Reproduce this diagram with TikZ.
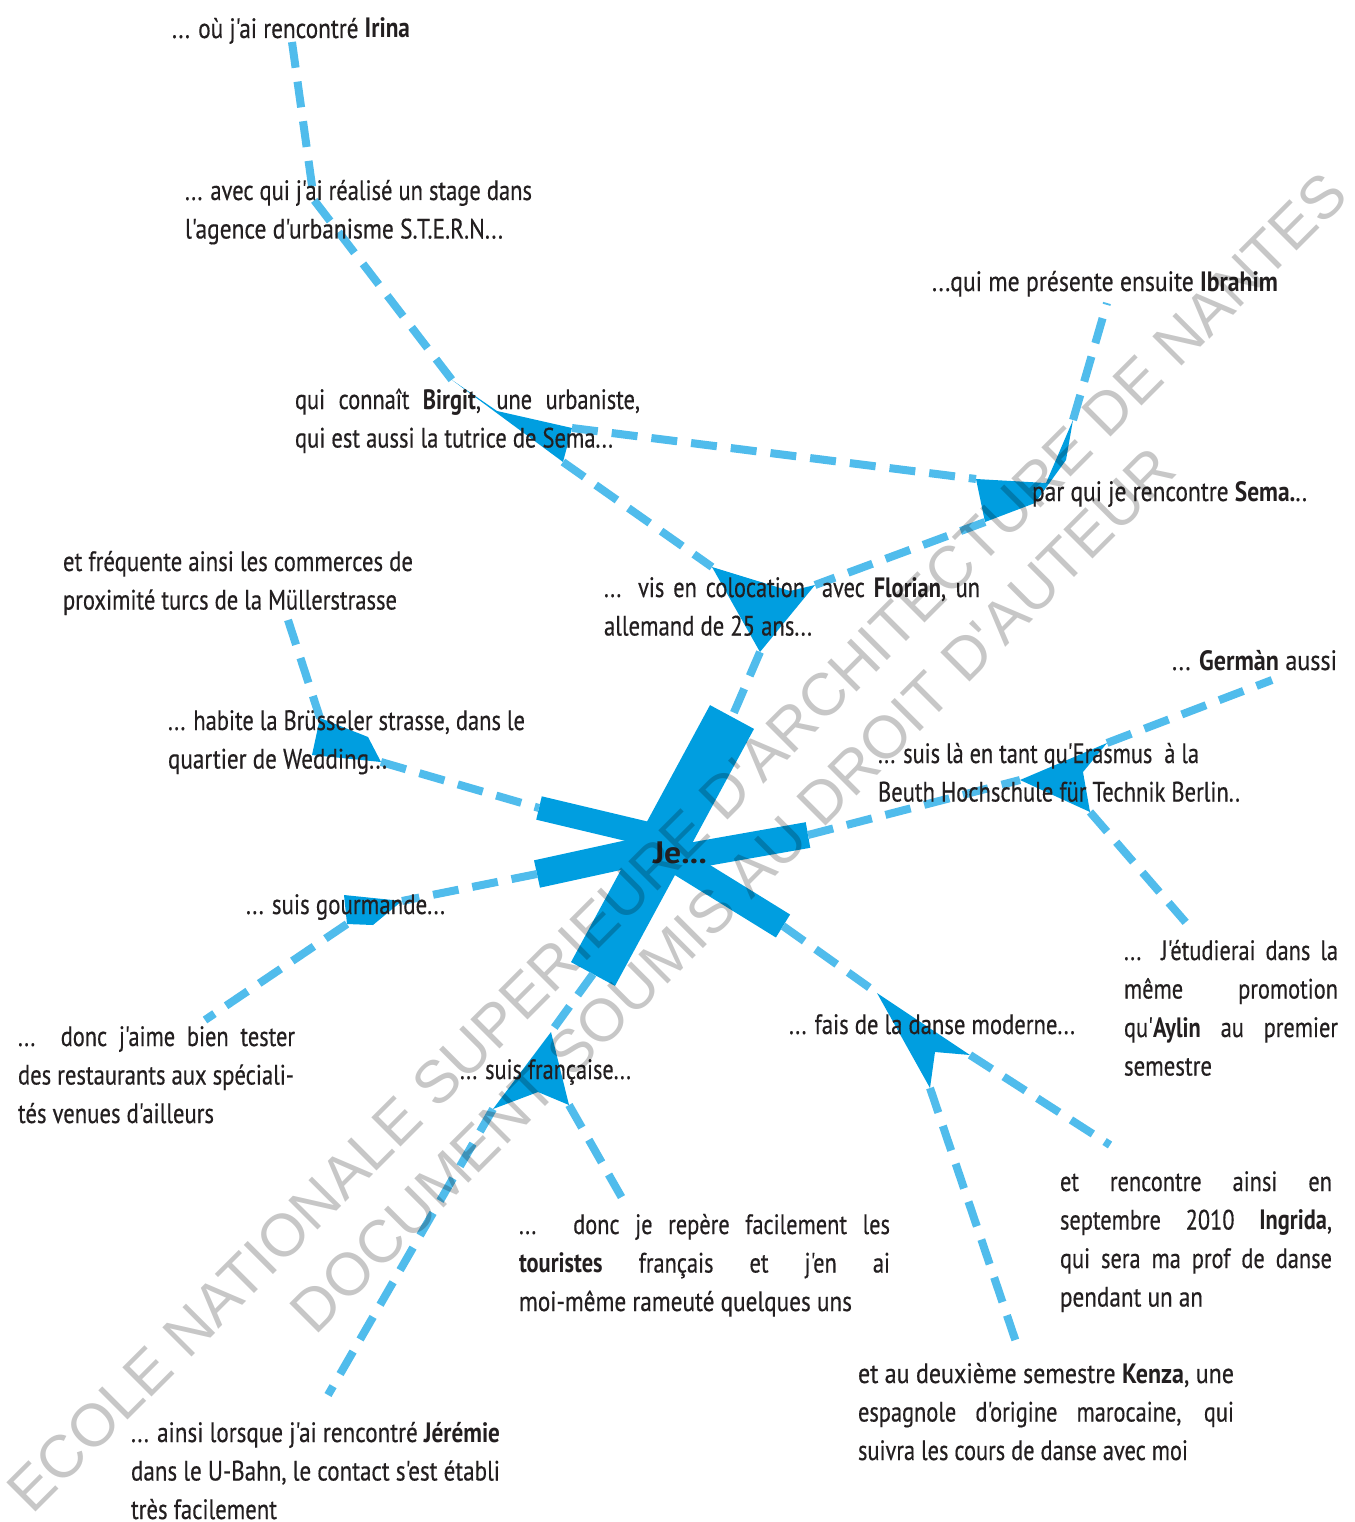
\documentclass[tikz,border=0pt]{standalone}
\usepackage{fontspec}
\usepackage{graphicx}
\setmainfont{PT Sans}[FakeStretch=0.8, Ligatures=TeXOff, UprightFeatures={FakeBold=0.4}]
\newfontfamily\wmfont{Liberation Sans}[Ligatures=TeXOff]
\definecolor{dblue}{RGB}{0,158,224}
\definecolor{lblue}{RGB}{80,188,236}
\definecolor{ink}{RGB}{35,31,32}
\newcommand\lfit[2]{\hbox{\resizebox{#1pt}{\height}{#2}}}
\newcommand\ljust[2]{\hbox{\makebox[#1pt][s]{#2}}}
\newcommand\tblock[1]{\vtop{\baselineskip=38.5pt\lineskiplimit=-50pt\lineskip=0pt #1}}
\tikzset{
  txt/.style={anchor=base west, inner sep=0pt, outer sep=0pt, text=ink, font=\fontsize{28}{38.5}\selectfont},
  conn/.style={draw=lblue, line width=8pt, dash pattern=on 26pt off 14pt},
  blob/.style={fill=dblue},
  arm/.style={draw=dblue, line cap=butt},
  wm/.style={font=\wmfont\fontsize{60}{60}\selectfont, text=black, text opacity=0.22, rotate=45, inner sep=0pt}
}
\begin{document}
\begin{tikzpicture}[x=1pt,y=-1pt]
\fill[white] (0,0) rectangle (1354,1522);
\useasboundingbox (0,0) rectangle (1354,1522);
% free ends
\coordinate (irina) at (292,42);
\coordinate (bend) at (314,200);
\coordinate (ibra) at (1107,303);
\coordinate (mull) at (288,620);
\coordinate (germ) at (1272,680);
\coordinate (etud) at (1188,925);
\coordinate (aime) at (205,1020);
\coordinate (jere) at (328,1395);
\coordinate (tour) at (622,1198);
\coordinate (ingr) at (1110,1145);
\coordinate (kenz) at (1017,1345);
% shapes vertices
\coordinate (bi1) at (452,380); \coordinate (bi2) at (497,411); \coordinate (bi3) at (572,428); \coordinate (bi4) at (563,462);
\coordinate (se1) at (976,479); \coordinate (se2) at (1046,483); \coordinate (se3) at (1073,420); \coordinate (se4) at (1066,460); \coordinate (se5) at (1035,503); \coordinate (se6) at (985,522);
\coordinate (fl1) at (712,567); \coordinate (fl2) at (790,591); \coordinate (fl3) at (815,585); \coordinate (fl4) at (760,652);
\coordinate (we1) at (320,718); \coordinate (we2) at (368,737); \coordinate (we3) at (381,762); \coordinate (we4) at (312,755);
\coordinate (go1) at (344,895); \coordinate (go2) at (402,901); \coordinate (go3) at (373,925); \coordinate (go4) at (347,924);
\coordinate (er1) at (1107,743); \coordinate (er2) at (1083,772); \coordinate (er3) at (1090,812); \coordinate (er4) at (1020,780);
\coordinate (da1) at (877,993); \coordinate (da2) at (970,1055); \coordinate (da3) at (935,1052); \coordinate (da4) at (930,1088);
\coordinate (fr1) at (551,1032); \coordinate (fr2) at (569,1105); \coordinate (fr3) at (538,1092); \coordinate (fr4) at (493,1109);
% star
\coordinate (sttop) at (732,717); \coordinate (stbot) at (593,974);
\coordinate (a2) at (539,808); \coordinate (c2) at (665,838);
\coordinate (a3) at (537,874); \coordinate (c3) at (665,846);
\coordinate (a4) at (808,835); \coordinate (c4) at (655,862);
\coordinate (a5) at (783,926); \coordinate (c5) at (660,850);

% filled shapes
\fill[blob] (bi1) -- (bi2) -- (bi3) -- (bi4) -- cycle;
\fill[blob] (se1) -- (se2) -- (se3) -- (se4) -- (se5) -- (se6) -- cycle;
\fill[blob] (fl1) -- (fl2) -- (fl3) -- (fl4) -- cycle;
\fill[blob] (we1) -- (we2) -- (we3) -- (we4) -- cycle;
\fill[blob] (go1) -- (go2) -- (go3) -- (go4) -- cycle;
\fill[blob] (er1) -- (er2) -- (er3) -- (er4) -- cycle;
\fill[blob] (da1) -- (da2) -- (da3) -- (da4) -- cycle;
\fill[blob] (fr1) -- (fr2) -- (fr3) -- (fr4) -- cycle;
% star arms
\draw[arm, line width=50pt] (sttop) -- (stbot);
\draw[arm, line width=24pt] (a2) -- (c2);
\draw[arm, line width=28pt] (a3) -- (c3);
\draw[arm, line width=26pt] (a4) -- (c4);
\draw[arm, line width=27pt] (a5) -- (c5);

% connectors
\draw[conn] (irina) -- (bend) -- (bi1);
\draw[conn] (bi3) -- (se1);
\draw[conn] (bi4) -- (fl1);
\draw[conn] (se6) -- (fl3);
\draw[conn] (se3) -- (ibra);
\draw[conn] (fl4) -- (sttop);
\draw[conn] (mull) -- (we1);
\draw[conn] (we3) -- (a2);
\draw[conn] (a3) -- (go2);
\draw[conn] (go4) -- (aime);
\draw[conn] (a4) -- (er4);
\draw[conn] (er1) -- (germ);
\draw[conn] (er3) -- (etud);
\draw[conn] (a5) -- (da1);
\draw[conn] (da2) -- (ingr);
\draw[conn] (da4) -- (kenz);
\draw[conn] (stbot) -- (fr1);
\draw[conn] (fr4) -- (jere);
\draw[conn] (fr2) -- (tour);

% texts
\node[txt] (t1) at (172,38) {\tblock{\lfit{238}{... où j'ai rencontré \textbf{Irina}}}};
\node[txt] (t2) at (185,200) {\tblock{\lfit{347}{... avec qui j'ai réalisé un stage dans}\lfit{318}{l'agence d'urbanisme S.T.E.R.N...}}};
\node[txt] (t3) at (932,291) {\tblock{\lfit{346}{...qui me présente ensuite \textbf{Ibrahim}}}};
\node[txt] (t4) at (295,409) {\tblock{\ljust{345}{qui connaît \textbf{Birgit}, une urbaniste,}\lfit{318}{qui est aussi la tutrice de Sema...}}};
\node[txt] (t5) at (1032,501) {\tblock{\lfit{275}{par qui je rencontre \textbf{Sema.}..}}};
\node[txt] (t6) at (63,571) {\tblock{\lfit{350}{et fréquente ainsi les commerces de}\lfit{334}{proximité turcs de la Müllerstrasse}}};
\node[txt] (t7) at (604,597) {\tblock{\ljust{376}{... vis en colocation\hspace{8pt} avec \textbf{Florian}, un}\lfit{208}{allemand de 25 ans...}}};
\node[txt] (t8) at (1172,670) {\tblock{\lfit{165}{... \textbf{Germàn} aussi}}};
\node[txt] (t9) at (168,730) {\tblock{\lfit{357}{... habite la Brüsseler strasse, dans le}\lfit{219}{quartier de Wedding...}}};
\node[txt] (t10) at (878,763) {\tblock{\lfit{321}{... suis là en tant qu'Erasmus\hspace{6pt} à la}\lfit{362}{Beuth Hochschule für Technik Berlin..}}};
\node[txt] (t12) at (246,914) {\tblock{\lfit{199}{... suis gourmande...}}};
\node[txt] (t13) at (1124,960) {\tblock{\ljust{214}{... J'étudierai dans la}\ljust{214}{même promotion}\ljust{214}{qu'\textbf{Aylin} au premier}\lfit{88}{semestre}}};
\node[txt] (t14) at (18,1046) {\tblock{\ljust{277}{... donc j'aime bien tester}\lfit{276}{des restaurants aux spéciali-}\lfit{196}{tés venues d'ailleurs}}};
\node[txt] (t15) at (789,1034) {\tblock{\lfit{286}{... fais de la danse moderne...}}};
\node[txt] (t16) at (460,1079) {\tblock{\lfit{171}{... suis française...}}};
\node[txt] (t17) at (1060,1191) {\tblock{\ljust{272}{et rencontre ainsi en}\ljust{272}{septembre 2010 \textbf{Ingrida},}\ljust{272}{qui sera ma prof de danse}\lfit{143}{pendant un an}}};
\node[txt] (t18) at (519,1234) {\tblock{\ljust{371}{... donc je repère facilement les}\ljust{371}{\textbf{touristes} français et j'en ai}\lfit{333}{moi-même rameuté quelques uns}}};
\node[txt] (t19) at (858,1383) {\tblock{\lfit{376}{et au deuxième semestre \textbf{Kenza}, une}\ljust{376}{espagnole d'origine marocaine, qui}\lfit{330}{suivra les cours de danse avec moi}}};
\node[txt] (t20) at (131,1442) {\tblock{\lfit{369}{... ainsi lorsque j'ai rencontré \textbf{Jérémie}}\lfit{369}{dans le U-Bahn, le contact s'est établi}\lfit{146}{très facilement}}};
\node[inner sep=0pt, text=ink, font=\bfseries\fontsize{31}{31}\selectfont] (je) at (680,853) {\resizebox{54pt}{\height}{Je...}};

% watermark
\node[wm] (wm1) at (677,842) {ECOLE NATIONALE SUPERIEURE D'ARCHITECTURE DE NANTES};
\node[wm] (wm2) at (733,890) {DOCUMENT SOUMIS AU DROIT D'AUTEUR};
\end{tikzpicture}
\end{document}
